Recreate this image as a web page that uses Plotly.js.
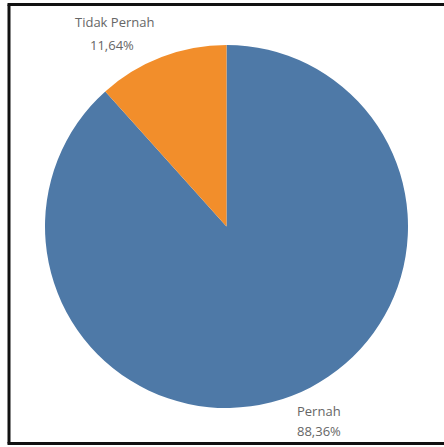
<!DOCTYPE html>
<html>
<head>
<meta charset="utf-8">
<script src="https://cdn.plot.ly/plotly-3.0.1.min.js"></script>
<style>html,body{margin:0;padding:0;background:#fff;}#chart{width:444px;height:447px;}</style>
</head>
<body>
<div id="chart"></div>
<script>
const labels = ["Pernah", "Tidak Pernah"];
const values = [88.36, 11.64];
const colors = ["#4e79a7", "#f28e2b"];

const W = 444, H = 447;
function px(x){return x / W;}
function py(y){return 1 - y / H;}
function pct(v){return v.toFixed(2).replace('.', ',') + '%';}

// label line positions (pixels): name line, percent line
const namePos = [{x: 319, y: 411}, {x: 114, y: 22}];
const pctPos = [{x: 319, y: 431}, {x: 112, y: 45}];

const trace = {
  type: 'pie',
  labels: labels,
  values: values,
  marker: {colors: colors, line: {width: 0}},
  sort: false,
  direction: 'clockwise',
  rotation: 0,
  textinfo: 'none',
  hoverinfo: 'none',
  domain: {x: [px(45), px(408)], y: [py(408), py(45)]}
};

const font = {family: '"Open Sans", sans-serif', size: 13, color: '#666666'};
const annotations = [];
labels.forEach((l, i) => {
  annotations.push({xref: 'paper', yref: 'paper', x: px(namePos[i].x), y: py(namePos[i].y),
    xanchor: 'center', yanchor: 'middle', text: l, showarrow: false, font: font});
  annotations.push({xref: 'paper', yref: 'paper', x: px(pctPos[i].x), y: py(pctPos[i].y),
    xanchor: 'center', yanchor: 'middle', text: pct(values[i]), showarrow: false, font: font});
});

const lineStyle = {color: '#111', width: 3};
const shapes = [
  {type: 'line', xref: 'paper', yref: 'paper', x0: px(9), x1: px(9), y0: py(4.5), y1: py(443.5), line: lineStyle},
  {type: 'line', xref: 'paper', yref: 'paper', x0: px(7.5), x1: 1.02, y0: py(4.5), y1: py(4.5), line: lineStyle},
  {type: 'line', xref: 'paper', yref: 'paper', x0: px(7.5), x1: 1.02, y0: py(443.5), y1: py(443.5), line: lineStyle}
];

Plotly.newPlot('chart', [trace], {
  width: W, height: H,
  margin: {l: 0, r: 0, t: 0, b: 0},
  paper_bgcolor: '#ffffff',
  showlegend: false,
  annotations: annotations,
  shapes: shapes
}, {displayModeBar: false, staticPlot: true});
</script>
</body>
</html>
